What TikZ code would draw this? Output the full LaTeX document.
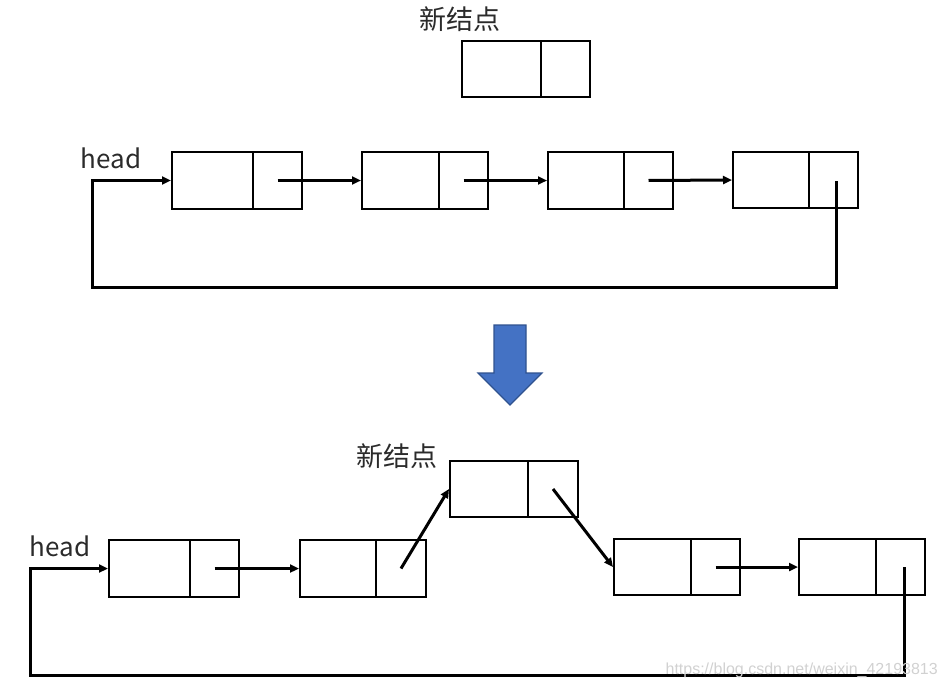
\documentclass[tikz,border=0pt]{standalone}
\usepackage{fontspec}
\setmainfont{Noto Sans CJK SC}
\newfontfamily\wmfont{Liberation Sans}
\usetikzlibrary{arrows.meta}
\definecolor{txt}{HTML}{2b2b2b}
\definecolor{bluefill}{HTML}{4472C4}
\definecolor{blueedge}{HTML}{2F528F}
\tikzset{
  lbox/.style={draw=black, line width=2pt, inner sep=0pt},
  ptr/.style={line width=3pt, -{Triangle[length=9pt,width=8pt]}},
  lbl/.style={text=txt, inner sep=0pt, font=\fontsize{27}{30}\selectfont},
  headlbl/.style={text=txt, inner sep=0pt, font=\fontsize{26}{28}\selectfont},
  wm/.style={text=black!18, inner sep=0pt, font=\wmfont\fontsize{16}{18}\selectfont}
}
% name, x1, x2, divider, y1, y2
\newcommand{\lnode}[6]{%
  \node[lbox, minimum width={#3-#2}, minimum height={#6-#5}] (#1) at ({(#2+#3)/2},{(#5+#6)/2}) {};
  \draw[line width=2pt] (#4,#5) -- (#4,#6);
  \coordinate (#1p) at ({(#4+#3)/2},{(#5+#6)/2});
}
\begin{document}
\begin{tikzpicture}[x=1pt,y=-1pt]
\useasboundingbox (0,0) rectangle (946,685);
% ---------- top ----------
\node[lbl] (newlbl1) at (460,19) {新结点};
\lnode{N1}{462}{590}{541}{41}{97}
\lnode{A1}{172}{302}{253}{152}{209}
\lnode{A2}{362}{488}{439}{152}{209}
\lnode{A3}{548}{673}{624}{152}{209}
\lnode{A4}{733}{858}{809}{152}{208}
\coordinate (A4p) at (836,181);
\node[headlbl] (head1) at (111,158) {head};
\draw[ptr] (A1p) -- (A2.west);
\draw[ptr] (A2p) -- (A3.west);
\draw[ptr] (A3p) -- (A4.west);
\coordinate (L1a) at (92,287);
\draw[ptr] (A4p) -- (A4p |- L1a) -- (L1a) -- (L1a |- A1.west) -- (A1.west);
% ---------- blue arrow ----------
\draw[fill=bluefill, draw=blueedge, line width=1.2pt, line join=miter] (494,325) -- (526,325) -- (526,373) -- (542,373) -- (510,405) -- (478,373) -- (494,373) -- cycle;
% ---------- bottom ----------
\node[lbl] (newlbl2) at (397,456) {新结点};
\lnode{N2}{450}{578}{528}{461}{517}
\lnode{C1}{109}{239}{190}{540}{597}
\lnode{C2}{300}{426}{376}{540}{597}
\lnode{C3}{614}{740}{691}{539}{595}
\lnode{C4}{799}{925}{876}{539}{595}
\coordinate (C4p) at (904,567);
\node[headlbl] (head2) at (60,546) {head};
\draw[ptr] (C1p) -- (C2.west);
\draw[ptr] (C2p) -- (N2.west);
\draw[ptr] (N2p) -- (C3.west);
\draw[ptr] (C3p) -- (C4.west);
\coordinate (L2a) at (30,675);
\draw[ptr] (C4p) -- (C4p |- L2a) -- (L2a) -- (L2a |- C1.west) -- (C1.west);
\node[wm, anchor=south east] (wmark) at (938,678) {https://blog.csdn.net/weixin\_42193813};
\end{tikzpicture}
\end{document}
